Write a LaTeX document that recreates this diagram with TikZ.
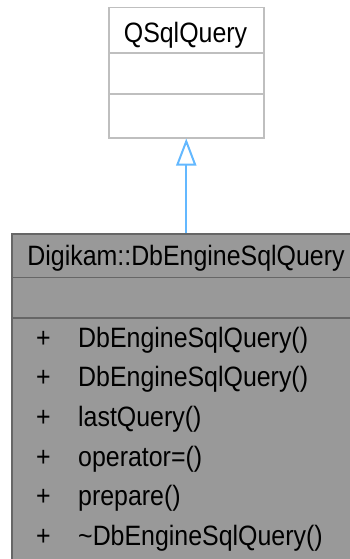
\documentclass[tikz,border=0pt]{standalone}
\usepackage{fontspec}
\setmainfont{Liberation Sans}
\newfontfamily\lblfont[FakeStretch=0.89]{Liberation Sans}
\usetikzlibrary{arrows.meta}
\definecolor{topborder}{HTML}{BFBFBF}
\definecolor{botfill}{HTML}{999999}
\definecolor{botborder}{HTML}{666666}
\definecolor{inherit}{HTML}{63B8FF}
\begin{document}
\begin{tikzpicture}[x=1pt,y=-1pt,
  lbl/.style={inner sep=0pt, font=\lblfont\fontsize{28}{32}\selectfont, text=black},
  classbox/.style={rectangle, inner sep=0pt, line width=1.5pt, anchor=north west}]
\useasboundingbox (0,0) rectangle (350,559);
\clip (0,0) rectangle (350,559);
% top class
\node[classbox, draw=topborder, fill=white, minimum width=155pt, minimum height=130pt] (qsql) at (108,7) {};
\draw[topborder, line width=1.5pt] (108,53) -- (263,53);
\draw[topborder, line width=1.5pt] (108,94) -- (263,94);
\node[lbl, anchor=base] (qsqlt) at (185.5,43) {QSqlQuery};
% bottom class
\node[classbox, draw=botborder, fill=botfill, minimum width=350pt, minimum height=400pt] (dbe) at (11,233) {};
\draw[botborder, line width=1.5pt] (11,277.5) -- (361,277.5);
\draw[botborder, line width=1.5pt] (11,318) -- (361,318);
\node[lbl, anchor=base] (dbet) at (186,265) {Digikam::DbEngineSqlQuery};
\foreach \i/\y/\t in {1/347/DbEngineSqlQuery(), 2/386.5/DbEngineSqlQuery(), 3/426/lastQuery(), 4/466/operator=(), 5/505.5/prepare(), 6/545/\textasciitilde DbEngineSqlQuery()}{
  \node[lbl, anchor=base] (p\i) at (43.5,\y) {+};
  \node[lbl, anchor=base west] (m\i) at (78,\y) {\t};
}
% inheritance
\draw[inherit, line width=2pt, -{Triangle[open, length=27pt, width=20pt, line width=2pt]}] (dbe.north -| qsql.south) -- (qsql.south);
\end{tikzpicture}
\end{document}
